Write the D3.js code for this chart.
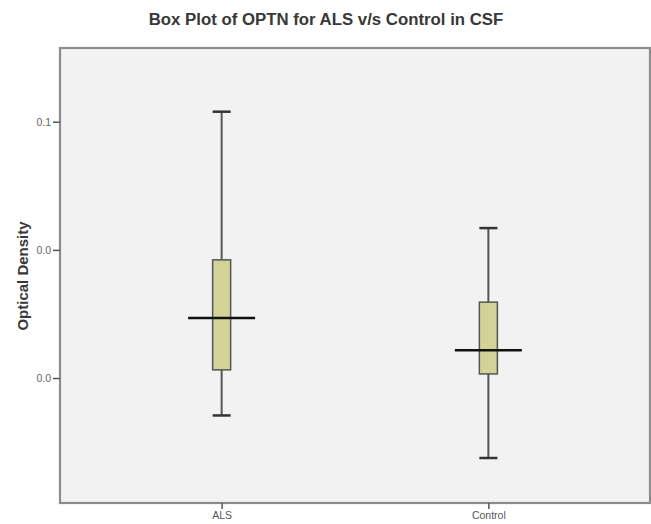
<!DOCTYPE html>
<html>
<head>
<meta charset="utf-8">
<script src="https://cdn.jsdelivr.net/npm/d3@7"></script>
<style>
  html, body { margin: 0; padding: 0; background: #ffffff; }
  svg { display: block; }
</style>
</head>
<body>
<svg id="chart" width="651" height="524"></svg>
<script>
// Groups and their box-plot summaries (optical density)
const categories = ["ALS", "Control"];
const whiskerLow  = [-0.0146, -0.0312];
const quartile1   = [0.0032, 0.0016];
const medians     = [0.0234, 0.0108];
const quartile3   = [0.0461, 0.0296];
const whiskerHigh = [0.1039, 0.0585];

// Axis ticks (labels shown with one decimal)
const tickValues = [0.10, 0.05, 0.00];
const tickLabels = ["0.1", "0.0", "0.0"];

const svg = d3.select("#chart");
const frame = { left: 60, top: 48, right: 650, bottom: 503 };
const font = "Liberation Sans, Arial, sans-serif";

const y = d3.scaleLinear()
  .domain([-0.04875, 0.12875])
  .range([frame.bottom, frame.top]);

const x = d3.scalePoint()
  .domain(categories)
  .range([frame.left, frame.right])
  .padding(0.606);

// Plot area
svg.append("rect")
  .attr("x", frame.left).attr("y", frame.top)
  .attr("width", frame.right - frame.left)
  .attr("height", frame.bottom - frame.top)
  .attr("fill", "#f2f2f2")
  .attr("stroke", "#8c8c8c")
  .attr("stroke-width", 2.2);

// Title
svg.append("text")
  .attr("x", 326).attr("y", 25)
  .attr("text-anchor", "middle")
  .attr("font-family", font)
  .attr("font-weight", "bold")
  .attr("font-size", 16.8)
  .attr("fill", "#383838")
  .text("Box Plot of OPTN for ALS v/s Control in CSF");

// Y axis
const yAxis = d3.axisLeft(y)
  .tickValues(tickValues)
  .tickFormat((d, i) => tickLabels[i])
  .tickSize(7)
  .tickPadding(2);
const gy = svg.append("g")
  .attr("transform", `translate(${frame.left},0)`)
  .call(yAxis);
gy.select(".domain").remove();
gy.selectAll(".tick line").attr("stroke", "#555").attr("stroke-width", 1.5);
gy.selectAll(".tick text")
  .attr("font-family", font)
  .attr("font-size", 10.5)
  .attr("fill", "#666");

// X axis
const xAxis = d3.axisBottom(x).tickSize(6).tickPadding(3);
const gx = svg.append("g")
  .attr("transform", `translate(0,${frame.bottom})`)
  .call(xAxis);
gx.select(".domain").remove();
gx.selectAll(".tick line").attr("stroke", "#555").attr("stroke-width", 1.5);
gx.selectAll(".tick text")
  .attr("font-family", font)
  .attr("font-size", 10.5)
  .attr("fill", "#555");

// Y axis title
svg.append("text")
  .attr("transform", "translate(28,276) rotate(-90)")
  .attr("text-anchor", "middle")
  .attr("font-family", font)
  .attr("font-weight", "bold")
  .attr("font-size", 15)
  .attr("fill", "#383838")
  .text("Optical Density");

// Boxes
const boxW = 18, capW = 18, medW = 67;
const groups = svg.append("g").selectAll("g")
  .data(categories.map((c, i) => ({
    c, lo: whiskerLow[i], q1: quartile1[i], med: medians[i], q3: quartile3[i], hi: whiskerHigh[i]
  })))
  .join("g");

groups.append("line")
  .attr("x1", d => x(d.c)).attr("x2", d => x(d.c))
  .attr("y1", d => y(d.hi)).attr("y2", d => y(d.q3))
  .attr("stroke", "#555").attr("stroke-width", 2);
groups.append("line")
  .attr("x1", d => x(d.c)).attr("x2", d => x(d.c))
  .attr("y1", d => y(d.q1)).attr("y2", d => y(d.lo))
  .attr("stroke", "#555").attr("stroke-width", 2);
groups.append("line")
  .attr("x1", d => x(d.c) - capW / 2).attr("x2", d => x(d.c) + capW / 2)
  .attr("y1", d => y(d.hi)).attr("y2", d => y(d.hi))
  .attr("stroke", "#333").attr("stroke-width", 2.5);
groups.append("line")
  .attr("x1", d => x(d.c) - capW / 2).attr("x2", d => x(d.c) + capW / 2)
  .attr("y1", d => y(d.lo)).attr("y2", d => y(d.lo))
  .attr("stroke", "#333").attr("stroke-width", 2.5);
groups.append("rect")
  .attr("x", d => x(d.c) - boxW / 2)
  .attr("width", boxW)
  .attr("y", d => y(d.q3))
  .attr("height", d => y(d.q1) - y(d.q3))
  .attr("fill", "#d3d398")
  .attr("stroke", "#555")
  .attr("stroke-width", 1.5);
groups.append("line")
  .attr("x1", d => x(d.c) - medW / 2).attr("x2", d => x(d.c) + medW / 2)
  .attr("y1", d => y(d.med)).attr("y2", d => y(d.med))
  .attr("stroke", "#111").attr("stroke-width", 2.5);
</script>
</body>
</html>
